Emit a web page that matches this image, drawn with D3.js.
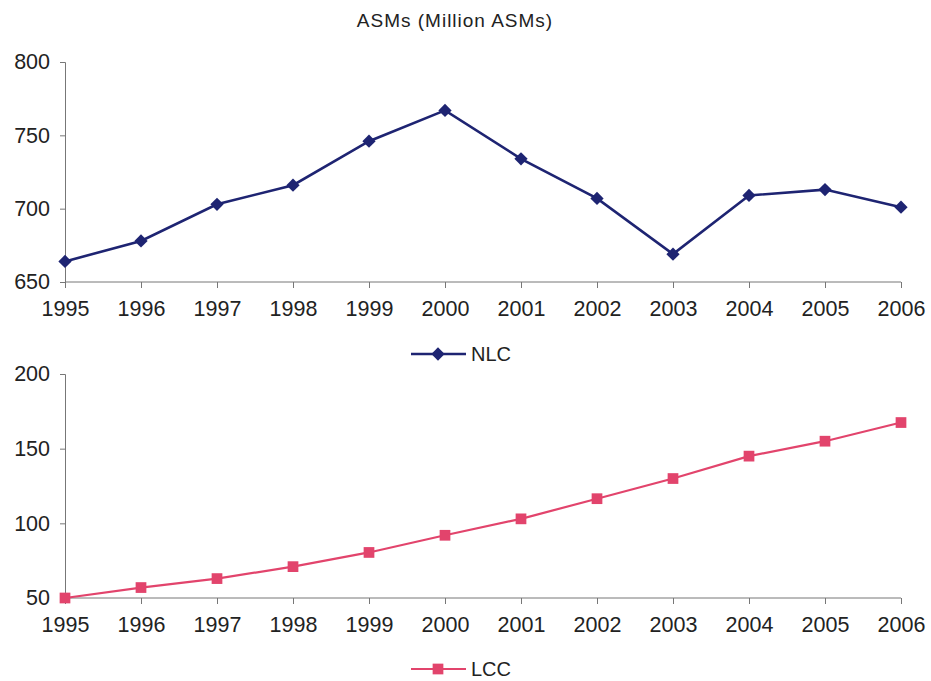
<!DOCTYPE html>
<html><head><meta charset="utf-8">
<script src="https://cdn.jsdelivr.net/npm/d3@7"></script>
<style>body{margin:0;background:#fff}svg{display:block;font-family:"Liberation Sans",Arial,sans-serif}</style>
</head><body>
<svg id="c" width="931" height="681"></svg>
<script>
const years = [1995,1996,1997,1998,1999,2000,2001,2002,2003,2004,2005,2006];
const nlcValues = [664,678,703,716,746,767,734,707,669,709,713,701];
const lccValues = [50,57,63,71,80.5,92,103,116.5,130,145,155,167.5];
const nlcTicks = [650,700,750,800];
const lccTicks = [50,100,150,200];
const title = "ASMs (Million ASMs)";
const seriesNames = ["NLC","LCC"];

const svg = d3.select("#c");
const x = d3.scalePoint().domain(years).range([65,901]);

svg.append("text").attr("x",455).attr("y",27).attr("text-anchor","middle")
  .attr("font-size",19).attr("letter-spacing",1).attr("fill","#222").text(title);

function panel(values, ticks, yr, color, shape, legendY, name){
  const y = d3.scaleLinear().domain([ticks[0],ticks[ticks.length-1]]).range(yr);
  const g = svg.append("g");
  const ya = g.append("g").attr("transform","translate(65,0)")
    .call(d3.axisLeft(y).tickValues(ticks).tickSize(5).tickPadding(10));
  ya.selectAll("text").attr("font-size",21.5).attr("fill","#222").attr("font-family","Liberation Sans, Arial");
  ya.selectAll("line,path").attr("stroke","#777");
  const xa = g.append("g").attr("transform",`translate(0,${yr[0]})`)
    .call(d3.axisBottom(x).tickSize(6).tickPadding(13).tickSizeOuter(0));
  xa.selectAll("text").attr("font-size",21.5).attr("fill","#222").attr("font-family","Liberation Sans, Arial");
  xa.selectAll("line,path").attr("stroke","#777");
  xa.select(".domain").attr("d",`M65,0H901`);

  const line = d3.line().x((d,i)=>x(years[i])).y(d=>y(d));
  const sw = shape==="diamond"?2.6:2.2;
  g.append("path").datum(values).attr("d",line).attr("fill","none")
    .attr("stroke",color).attr("stroke-width",sw);
  const sym = d3.symbol().type(d3.symbolSquare).size(shape==="diamond"?88:115);
  const rot = shape==="diamond"?" rotate(45)":"";
  g.selectAll(".m").data(values).enter().append("path")
    .attr("transform",(d,i)=>`translate(${x(years[i])},${y(d)})${rot}`)
    .attr("d",sym).attr("fill",color);

  // legend
  g.append("line").attr("x1",411).attr("x2",466).attr("y1",legendY).attr("y2",legendY)
    .attr("stroke",color).attr("stroke-width",sw);
  g.append("path").attr("transform",`translate(438,${legendY})${rot}`).attr("d",sym).attr("fill",color);
  g.append("text").attr("x",471).attr("y",legendY+7).attr("font-size",20).attr("fill","#222").text(name);
}

panel(nlcValues, nlcTicks, [282,62], "#1e2472", "diamond", 354, seriesNames[0]);
panel(lccValues, lccTicks, [598,374], "#e2446c", "square", 669, seriesNames[1]);
</script>
</body></html>
